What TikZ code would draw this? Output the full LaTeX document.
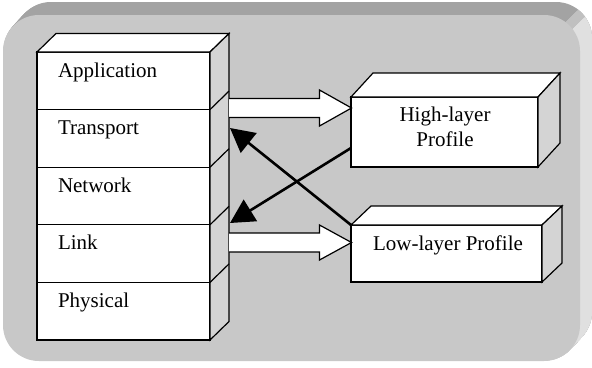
\documentclass[tikz,border=0pt]{standalone}
\usepackage{fontspec}
\setmainfont{Liberation Serif}
\usetikzlibrary{calc,arrows.meta}
\definecolor{bgface}{RGB}{200,200,200}
\definecolor{banddark}{RGB}{163,163,163}
\definecolor{bandmid}{RGB}{192,192,192}
\definecolor{bandlight}{RGB}{224,224,224}
\definecolor{sideface}{RGB}{212,212,212}
\begin{document}
\begin{tikzpicture}[x=1pt,y=-1pt,
  face/.style={draw=black, line width=1.2pt, line join=miter},
  layer/.style={draw=black, line width=1.2pt, fill=white, minimum width=173pt, minimum height=57.6pt, anchor=north west, inner sep=0pt, outer sep=0pt},
  pbox/.style={draw=black, line width=1.2pt, fill=white, anchor=north west, inner sep=0pt, outer sep=0pt},
  lbl/.style={font=\fontsize{21}{25}\selectfont, inner sep=0pt, outer sep=0pt},
  blockarrow/.style={draw=black, fill=white, line width=1.2pt, line join=miter},
  blk/.style={line width=2.6pt, -{Triangle[length=24pt,width=25pt]}},
  bandshape/.style={rounded corners=36pt}]
\useasboundingbox (0,0) rectangle (592,367);
% background bevelled panel
\foreach \i in {12,11.5,...,0.5} \fill[banddark, bandshape, shift={(\i,-\i*13/12)}] (3,15) rectangle (580,361);
\begin{scope}
  \clip (600,-12) -- (600,400) -- (188,400) -- cycle;
  \foreach \i in {12,11.5,...,0.5} \fill[bandmid, bandshape, shift={(\i,-\i*13/12)}] (3,15) rectangle (580,361);
\end{scope}
\begin{scope}
  \clip (600,2) -- (600,400) -- (202,400) -- cycle;
  \foreach \i in {12,11.5,...,0.5} \fill[bandlight, bandshape, shift={(\i,-\i*13/12)}] (3,15) rectangle (580,361);
\end{scope}
\fill[bgface, bandshape] (3,15) rectangle (580,361);

% protocol stack
\node[layer] (app) at (37,52) {};
\node[layer] (trn) at (app.south west) {};
\node[layer] (net) at (trn.south west) {};
\node[layer] (lnk) at (net.south west) {};
\node[layer] (phy) at (lnk.south west) {};
\draw[face, fill=white] (app.north west) -- ++(19,-18.5) -- ($(app.north east)+(19,-18.5)$) -- (app.north east) -- cycle;
\draw[face, fill=sideface] (app.north east) -- ++(19,-18.5) -- ($(phy.south east)+(19,-18.5)$) -- (phy.south east) -- cycle;
\foreach \n in {trn,net,lnk,phy} \draw[face] (\n.north east) -- ++(19,-18.5);
\node[lbl, anchor=base west] (appL) at ($(app.north west)+(21,25)$) {Application};
\node[lbl, anchor=base west] (trnL) at ($(trn.north west)+(21,25)$) {Transport};
\node[lbl, anchor=base west] (netL) at ($(net.north west)+(21,25)$) {Network};
\node[lbl, anchor=base west] (lnkL) at ($(lnk.north west)+(21,25)$) {Link};
\node[lbl, anchor=base west] (phyL) at ($(phy.north west)+(21,25)$) {Physical};

% profile boxes
\node[pbox, minimum width=187pt, minimum height=70pt] (hi) at (351,97) {};
\draw[face, fill=white] (hi.north west) -- ++(22,-24) -- ($(hi.north east)+(22,-24)$) -- (hi.north east) -- cycle;
\draw[face, fill=sideface] (hi.north east) -- ++(22,-24) -- ($(hi.south east)+(22,-24)$) -- (hi.south east) -- cycle;
\node[lbl, anchor=base] (hiL1) at (445,121) {High-layer};
\node[lbl, anchor=base] (hiL2) at (445,146) {Profile};

\node[pbox, minimum width=191pt, minimum height=57pt] (lo) at (351,225) {};
\draw[face, fill=white] (lo.north west) -- ++(20,-19) -- ($(lo.north east)+(20,-19)$) -- (lo.north east) -- cycle;
\draw[face, fill=sideface] (lo.north east) -- ++(20,-19) -- ($(lo.south east)+(20,-19)$) -- (lo.south east) -- cycle;
\node[lbl, anchor=base] (loL) at (448,250) {Low-layer Profile};

% white block arrows
\coordinate (s1) at ($(trn.north east)+(19,-1.6)$);
\coordinate (t1) at ($(hi.north west)+(0.5,11)$);
\coordinate (s2) at ($(lnk.north east)+(19,17.7)$);
\coordinate (t2) at ($(lo.north west)+(0.5,17.5)$);
\draw[blockarrow] ($(s1 |- t1)+(0,-9.5)$) -- ($(t1)+(-32,-9.5)$) -- ++(0,-8.5) -- (t1) -- ($(t1)+(-32,18)$) -- ++(0,-8.5) -- ($(s1 |- t1)+(0,9.5)$);
\draw[blockarrow] ($(s2 |- t2)+(0,-9.5)$) -- ($(t2)+(-32,-9.5)$) -- ++(0,-8) -- (t2) -- ($(t2)+(-32,17.5)$) -- ++(0,-8) -- ($(s2 |- t2)+(0,9.5)$);

% black arrows
\coordinate (b1s) at ($(hi.south west)+(0,-19)$);
\coordinate (b1e) at (230,223);
\coordinate (b2s) at (lo.north west);
\coordinate (b2e) at (230,128);
\draw[blk] (b1s) -- (b1e);
\draw[blk] (b2s) -- (b2e);
\end{tikzpicture}
\end{document}
